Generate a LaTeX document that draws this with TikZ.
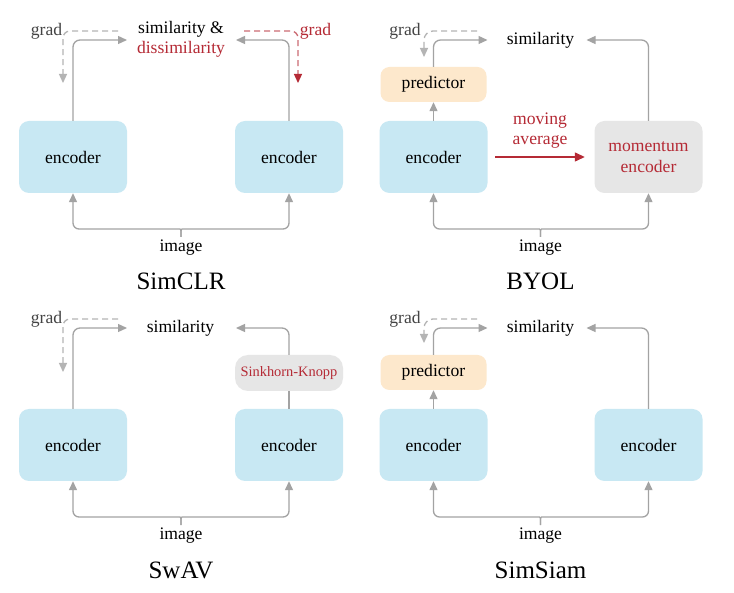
\documentclass[tikz,border=0pt]{standalone}
\usepackage{fontspec}
\setmainfont{Liberation Serif}
\usetikzlibrary{arrows.meta}
\definecolor{encblue}{HTML}{C8E8F3}
\definecolor{predorange}{HTML}{FDE8CC}
\definecolor{boxgray}{HTML}{E6E6E6}
\definecolor{myred}{HTML}{B52A35}
\definecolor{linegray}{HTML}{A3A3A3}
\definecolor{gradgray}{HTML}{B4B4B4}
\definecolor{gradtext}{HTML}{444444}
\newcommand\labfont{\fontsize{17.6}{21.5}\selectfont}
\newcommand\titfont{\fontsize{25}{30}\selectfont}
\newcommand\skfont{\fontsize{14.4}{17}\selectfont}
\tikzset{
  box/.style={rounded corners=10pt, minimum width=108pt, minimum height=72pt, inner sep=0pt, font=\labfont, align=center},
  enc/.style={box, fill=encblue},
  mom/.style={box, fill=boxgray, text=myred},
  pred/.style={rounded corners=9pt, minimum width=106pt, minimum height=35pt, inner sep=0pt, fill=predorange, font=\labfont},
  skbox/.style={rounded corners=13pt, minimum width=108pt, minimum height=36pt, inner sep=0pt, fill=boxgray, text=myred, font=\skfont},
  txt/.style={anchor=base, font=\labfont, inner sep=0pt},
  titl/.style={anchor=base, font=\titfont, inner sep=0pt},
  gl/.style={draw=linegray, line width=1.3pt},
  arr/.style={-{Triangle[length=9pt,width=8pt]}},
  gradg/.style={draw=gradgray, line width=1.3pt, dash pattern=on 6pt off 4pt, rounded corners=7pt, -{Triangle[length=9pt,width=8pt]}},
  gradr/.style={draw=myred!70, line width=1.3pt, dash pattern=on 6pt off 4pt, rounded corners=7pt, -{Triangle[length=9pt,width=8pt,color=myred]}},
  redarr/.style={draw=myred, line width=1.3pt, -{Triangle[length=10pt,width=9pt]}},
}
\begin{document}
\begin{tikzpicture}[x=1pt,y=-1pt]
\useasboundingbox[fill=white] (0,0) rectangle (734,593);

% ---------------- SimCLR ----------------
\begin{scope}
\node[enc] (a1) at (73,157) {encoder};
\node[enc] (a2) at (289,157) {encoder};
\node[txt] (a3) at (181,34) {similarity \&};
\node[txt,text=myred] (a4) at (181,54) {dissimilarity};
\coordinate (a1t) at (127,40);
\coordinate (a2t) at (236,40);
\draw[gl,arr,rounded corners=7pt] (a1.north) |- (a1t);
\draw[gl,arr,rounded corners=7pt] (a2.north) |- (a2t);
\node[txt,text=gradtext] (a5) at (46.5,35.5) {grad};
\coordinate (a6) at (118,31);
\coordinate (a7) at (63,83);
\draw[gradg] (a6) -| (a7);
\node[txt,text=myred] (a8) at (315.5,35.5) {grad};
\coordinate (a9) at (244,31);
\coordinate (a10) at (298,83);
\draw[gradr] (a9) -| (a10);
\coordinate (a11) at (181,237);
\draw[gl,arr,rounded corners=6pt] (a11) .. controls (181,229) .. (174,229) -- (73,229) -- (a1.south);
\draw[gl,arr,rounded corners=6pt] (a11) .. controls (181,229) .. (188,229) -- (289,229) -- (a2.south);
\node[txt] (a12) at (181,251.5) {image};
\node[titl] (a13) at (181,290) {SimCLR};
\end{scope}

% ---------------- BYOL ----------------
\begin{scope}[shift={(360.5,0)}]
\node[enc] (b1) at (73,157) {encoder};
\node[mom] (b2) at (288,157) {momentum\\encoder};
\node[pred] (b3) at (73,84.5) {predictor};
\draw[gl,arr] (b1.north) -- (b3.south);
\coordinate (b4) at (127,40);
\coordinate (b6) at (226,40);
\draw[gl,arr,rounded corners=7pt] (b3.north) |- (b4);
\draw[gl,arr,rounded corners=7pt] (b2.north) |- (b6);
\node[txt] (b5) at (180,45) {similarity};
\node[txt,text=gradtext] (b7) at (44.5,35.5) {grad};
\coordinate (b8) at (116.5,31);
\coordinate (b9) at (63.5,57);
\draw[gradg,rounded corners=9pt] (b8) -| (b9);
\node[txt,text=myred] (b10) at (179.5,125) {moving};
\node[txt,text=myred] (b11) at (179.5,145) {average};
\draw[redarr,shorten <=7.5pt,shorten >=9.5pt] (b1) -- (b2);
\coordinate (b12) at (180,237);
\draw[gl,arr,rounded corners=6pt] (b12) .. controls (180,229) .. (173,229) -- (73,229) -- (b1.south);
\draw[gl,arr,rounded corners=6pt] (b12) .. controls (180,229) .. (187,229) -- (288,229) -- (b2.south);
\node[txt] (b13) at (180,251.5) {image};
\node[titl] (b14) at (180,290) {BYOL};
\end{scope}

% ---------------- SwAV ----------------
\begin{scope}[shift={(0,288)}]
\node[enc] (c1) at (73,157) {encoder};
\node[enc] (c2) at (289,157) {encoder};
\node[skbox] (c3) at (289,85) {Sinkhorn-Knopp};
\draw[gl] (c2.north) -- (c3.south);
\coordinate (c4) at (127,40);
\coordinate (c5) at (236,40);
\draw[gl,arr,rounded corners=7pt] (c1.north) |- (c4);
\draw[gl,arr,rounded corners=7pt] (c3.north) |- (c5);
\node[txt] (c6) at (180.5,45) {similarity};
\node[txt,text=gradtext] (c7) at (46.5,35.5) {grad};
\coordinate (c8) at (118,31);
\coordinate (c9) at (63,84);
\draw[gradg] (c8) -| (c9);
\coordinate (c10) at (181,237);
\draw[gl,arr,rounded corners=6pt] (c10) .. controls (181,229) .. (174,229) -- (73,229) -- (c1.south);
\draw[gl,arr,rounded corners=6pt] (c10) .. controls (181,229) .. (188,229) -- (289,229) -- (c2.south);
\node[txt] (c11) at (181,251.5) {image};
\node[titl] (c12) at (181,290) {SwAV};
\end{scope}

% ---------------- SimSiam ----------------
\begin{scope}[shift={(360.5,288)}]
\node[enc] (d1) at (73,157) {encoder};
\node[enc] (d2) at (288,157) {encoder};
\node[pred] (d3) at (73,84.5) {predictor};
\draw[gl,arr] (d1.north) -- (d3.south);
\coordinate (d4) at (127,40);
\coordinate (d5) at (226,40);
\draw[gl,arr,rounded corners=7pt] (d3.north) |- (d4);
\draw[gl,arr,rounded corners=7pt] (d2.north) |- (d5);
\node[txt] (d6) at (180,45) {similarity};
\node[txt,text=gradtext] (d7) at (44.5,35.5) {grad};
\coordinate (d8) at (116.5,31);
\coordinate (d9) at (63.5,55);
\draw[gradg,rounded corners=9pt] (d8) -| (d9);
\coordinate (d10) at (180,237);
\draw[gl,arr,rounded corners=6pt] (d10) .. controls (180,229) .. (173,229) -- (73,229) -- (d1.south);
\draw[gl,arr,rounded corners=6pt] (d10) .. controls (180,229) .. (187,229) -- (288,229) -- (d2.south);
\node[txt] (d11) at (180,251.5) {image};
\node[titl] (d12) at (180,290) {SimSiam};
\end{scope}
\end{tikzpicture}
\end{document}
